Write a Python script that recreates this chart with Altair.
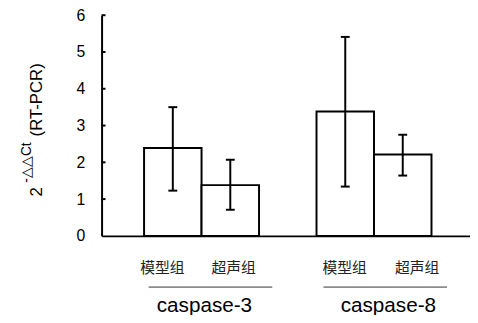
import altair as alt
import pandas as pd

# ---- data ----
groups = ["caspase-3", "caspase-3", "caspase-8", "caspase-8"]
treatments = ["模型组", "超声组", "模型组", "超声组"]
means = [2.39, 1.38, 3.38, 2.21]
upper = [3.50, 2.07, 5.41, 2.75]
lower = [1.23, 0.71, 1.34, 1.64]
slot = [0, 1, 3, 4]              # bar slot on the category axis (gap slot 2)
label_pos = [0.32, 1.56, 3.49, 4.75]
group_names = ["caspase-3", "caspase-8"]
group_center = [1.05, 4.25]
group_line_start = [0.08, 3.12]
group_line_end = [2.23, 5.27]
y_ticks = [0, 1, 2, 3, 4, 5, 6]

df = pd.DataFrame({
    "group": groups, "treatment": treatments, "mean": means,
    "upper": upper, "lower": lower,
    "x0": slot, "x1": [s + 1 for s in slot], "xc": [s + 0.5 for s in slot],
    "lx": label_pos, "zero": [0] * 4,
})
gdf = pd.DataFrame({"name": group_names, "c": group_center,
                    "s": group_line_start, "e": group_line_end})
tdf = pd.DataFrame({"v": y_ticks[1:]})

FONT = "Liberation Sans"
CJK = "Noto Sans CJK SC"

xs = alt.Scale(domain=[-0.739, 5.67], nice=False, zero=False)
ys = alt.Scale(domain=[0, 6], nice=False)
xax = alt.Axis(labels=False, ticks=False, title=None, grid=False,
               domainColor="black", domainWidth=2)
yax = alt.Axis(values=y_ticks, ticks=False, title=None, grid=False,
               domainColor="black", domainWidth=2, labelFontSize=16,
               labelPadding=17, labelColor="black", labelFont=FONT,
               labelOverlap=False)

base = alt.Chart(df)

bars = base.mark_rect(fill="white", stroke="black", strokeWidth=2).encode(
    x=alt.X("x0:Q", scale=xs, axis=xax), x2="x1:Q",
    y=alt.Y("mean:Q", scale=ys, axis=yax), y2="zero:Q",
)
err = base.mark_rule(color="black", strokeWidth=2).encode(
    x=alt.X("xc:Q", scale=xs, axis=xax),
    y=alt.Y("lower:Q", scale=ys, axis=yax), y2="upper:Q")
cap_hi = base.mark_tick(orient="horizontal", color="black", size=9,
                        thickness=2, opacity=1).encode(
    x=alt.X("xc:Q", scale=xs, axis=xax), y=alt.Y("upper:Q", scale=ys, axis=yax))
cap_lo = base.mark_tick(orient="horizontal", color="black", size=9,
                        thickness=2, opacity=1).encode(
    x=alt.X("xc:Q", scale=xs, axis=xax), y=alt.Y("lower:Q", scale=ys, axis=yax))

ticks_in = alt.Chart(tdf).mark_rule(color="black", strokeWidth=2).encode(
    y=alt.Y("v:Q", scale=ys, axis=yax), x=alt.value(0), x2=alt.value(4))

tlabels = base.mark_text(font=CJK, fontSize=15, color="#222",
                         baseline="middle").encode(
    x=alt.X("lx:Q", scale=xs, axis=xax), y=alt.value(257), text="treatment:N")

gbase = alt.Chart(gdf)
glines = gbase.mark_rule(color="#8c8c8c", strokeWidth=1.7).encode(
    x=alt.X("s:Q", scale=xs, axis=xax), x2="e:Q", y=alt.value(276))
gtext = gbase.mark_text(font=FONT, fontSize=21, color="black",
                        baseline="middle").encode(
    x=alt.X("c:Q", scale=xs, axis=xax), y=alt.value(295), text="name:N")

# y-axis title with superscript
def title_piece(txt, size, px, py):
    return alt.Chart(pd.DataFrame({"t": [txt]})).mark_text(
        font=FONT, fontSize=size, angle=270, align="left",
        baseline="alphabetic", color="black").encode(
        x=alt.value(px), y=alt.value(py), text="t:N")

t2 = title_piece("2", 17, -60, 184)
tsup = title_piece("-△△Ct", 14, -72, 170)
trest = title_piece("(RT-PCR)", 17, -60, 123)

chart = alt.layer(
    bars, err, cap_hi, cap_lo, ticks_in, tlabels, glines, gtext, t2, tsup, trest
).properties(
    width=374, height=224,
    autosize=alt.AutoSizeParams(type="none"),
    padding={"left": 95, "top": 5, "right": 0, "bottom": 78},
).configure_view(stroke=None)

chart.save("out.html", embed_options={"renderer": "svg", "actions": False})
